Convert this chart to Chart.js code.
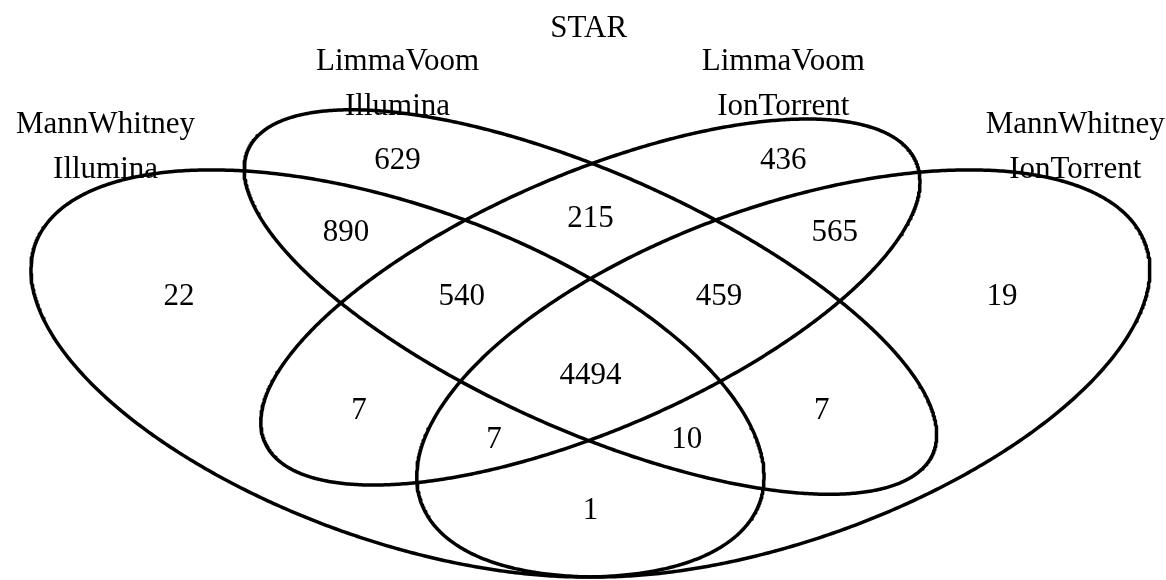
<!DOCTYPE html>
<html>
<head>
<meta charset="utf-8">
<script src="https://cdn.jsdelivr.net/npm/chart.js@4"></script>
<style>
  html, body { margin: 0; padding: 0; background: #fff; }
  #wrap { width: 1166px; height: 580px; }
</style>
</head>
<body>
<div id="wrap"><canvas id="vennChart"></canvas></div>
<script>
// four-way overlap of DE genes (STAR alignment)
const TITLE = 'STAR';
const SET_NAMES = [
    ['MannWhitney', 'Illumina'],
    ['LimmaVoom', 'Illumina'],
    ['LimmaVoom', 'IonTorrent'],
    ['MannWhitney', 'IonTorrent']
];
// region counts, same order as VennDiagram's a1..a15
const REGION_COUNTS = [629, 215, 436, 890, 540, 4494, 459, 565, 22, 7, 7, 1, 10, 7, 19];

// layout (venn units, y up) - kept apart from the counts
const REGION_POS = [
    [0.350, 0.77], [0.500, 0.69], [0.650, 0.77], [0.310, 0.67], [0.400, 0.58],
    [0.500, 0.47], [0.600, 0.58], [0.690, 0.67], [0.180, 0.58], [0.320, 0.42],
    [0.425, 0.38], [0.500, 0.28], [0.575, 0.38], [0.680, 0.42], [0.820, 0.58]
];
const SET_LABEL_POS = [[0.123, 0.790], [0.350, 0.8775], [0.650, 0.8775], [0.877, 0.790]];
const TITLE_POS = [0.4987, 0.955];
const ELLIPSES = [
    { x: 0.35, y: 0.47, a: 0.35, b: 0.20, rot: 135 },
    { x: 0.50, y: 0.57, a: 0.35, b: 0.15, rot: 135 },
    { x: 0.50, y: 0.57, a: 0.33, b: 0.15, rot: 45 },
    { x: 0.65, y: 0.47, a: 0.35, b: 0.20, rot: 45 }
];

const FONT = '"Liberation Serif", "Times New Roman", serif';
const FONT_SIZE = 31;
const LINE_GAP = 45;

function ellipseOutline(e) {
    var pts = [];
    var r = e.rot * Math.PI / 180;
    var n = 720;
    for (var i = 0; i <= n; i++) {
        var t = 2 * Math.PI * i / n;
        pts.push({
            x: e.x + e.a * Math.cos(t) * Math.cos(r) - e.b * Math.sin(t) * Math.sin(r),
            y: e.y + e.a * Math.cos(t) * Math.sin(r) + e.b * Math.sin(t) * Math.cos(r)
        });
    }
    return pts;
}

var datasets = ELLIPSES.map(function(e, i) {
    return {
        label: SET_NAMES[i].join(' '),
        data: ellipseOutline(e),
        showLine: true,
        borderColor: '#000',
        borderWidth: 3.5,
        borderJoinStyle: 'round',
        pointRadius: 0,
        fill: false,
        tension: 0,
        clip: 4
    };
});

const vennText = {
    id: 'vennText',
    afterDatasetsDraw: function(chart) {
        var ctx = chart.ctx;
        var xs = chart.scales.x, ys = chart.scales.y;
        var shift = FONT_SIZE * 0.33;
        ctx.save();
        ctx.fillStyle = '#000';
        ctx.textAlign = 'center';
        ctx.textBaseline = 'alphabetic';
        ctx.font = FONT_SIZE + 'px ' + FONT;

        REGION_COUNTS.forEach(function(v, i) {
            var p = REGION_POS[i];
            ctx.fillText(String(v), xs.getPixelForValue(p[0]), ys.getPixelForValue(p[1]) + shift);
        });

        SET_NAMES.forEach(function(lines, i) {
            var cx = xs.getPixelForValue(SET_LABEL_POS[i][0]);
            var cy = ys.getPixelForValue(SET_LABEL_POS[i][1]);
            var top = cy - (lines.length - 1) * LINE_GAP / 2;
            lines.forEach(function(txt, j) {
                ctx.fillText(txt, cx, top + j * LINE_GAP + shift);
            });
        });

        ctx.fillText(TITLE, xs.getPixelForValue(TITLE_POS[0]), ys.getPixelForValue(TITLE_POS[1]) + shift);
        ctx.restore();
    }
};

new Chart(document.getElementById('vennChart'), {
    type: 'scatter',
    data: { datasets: datasets },
    options: {
        responsive: true,
        maintainAspectRatio: false,
        animation: false,
        layout: { padding: 0 },
        plugins: {
            legend: { display: false },
            tooltip: { enabled: false },
            title: { display: false }
        },
        scales: {
            x: { type: 'linear', min: 0.0409, max: 0.9476, display: false },
            y: { type: 'linear', min: 0.1807, max: 0.9930, display: false }
        }
    },
    plugins: [vennText]
});
</script>
</body>
</html>
